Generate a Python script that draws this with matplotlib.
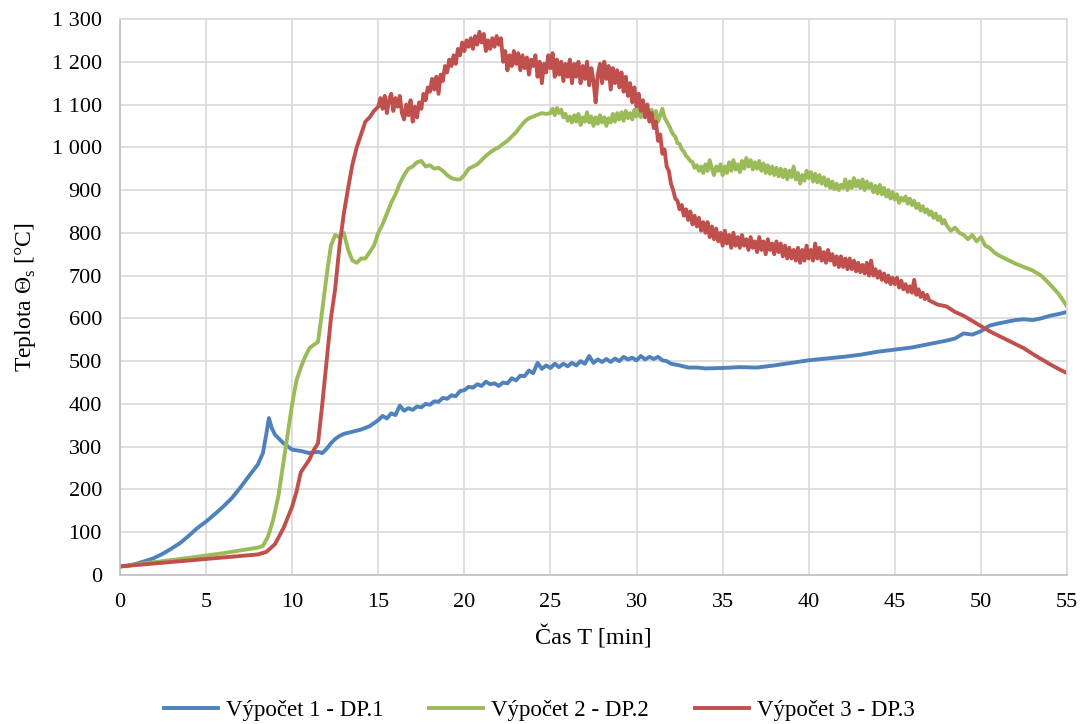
import matplotlib
matplotlib.use("Agg")
import numpy as np
import matplotlib.pyplot as plt
from matplotlib.ticker import FuncFormatter, MultipleLocator

plt.rcParams['font.family'] = ['Liberation Serif', 'DejaVu Serif']

# ---- data ----
# Výpočet 1 - DP.1
t_blue = [0, 0.5, 1, 1.5, 2, 2.5, 3, 3.5, 4, 4.5, 5, 5.5, 6, 6.5, 7, 7.5, 8, 8.3, 8.5, 8.65, 8.8, 9, 9.5, 10,
          10.5, 11, 11.5, 11.75, 12, 12.25, 12.5, 12.75, 13, 13.5, 14, 14.5,
          15, 15.25, 15.5, 15.75, 16, 16.25, 16.5, 16.75, 17, 17.25, 17.5, 17.75, 18, 18.25, 18.5, 18.75,
          19, 19.25, 19.5, 19.75, 20, 20.25, 20.5, 20.75, 21, 21.25, 21.5, 21.75, 22, 22.25, 22.5, 22.75,
          23, 23.25, 23.5, 23.75, 24, 24.25, 24.5, 24.75, 25, 25.25, 25.5, 25.75, 26, 26.25, 26.5, 26.75,
          27, 27.25, 27.5, 27.75, 28, 28.25, 28.5, 28.75, 29, 29.25, 29.5, 29.75, 30, 30.25, 30.5, 30.75,
          31, 31.25, 31.5, 31.75, 32, 32.5, 33, 33.5, 34,
          35, 36, 37, 38, 39, 40, 41, 42, 43, 44, 45, 46, 47, 48, 48.5, 49, 49.5, 50, 50.5, 51, 51.5, 52,
          52.5, 53, 53.5, 54, 54.5, 55]
v_blue = [20, 22, 27, 33, 40, 50, 62, 75, 92, 110, 125, 142, 160, 180, 205, 232, 258, 285, 330, 367, 345, 328, 308, 293,
          290, 285, 288, 285, 295, 308, 318, 325, 330, 335, 340, 348,
          362, 372, 366, 378, 374, 396, 384, 390, 386, 394, 392, 400, 398, 406, 405, 414,
          412, 420, 418, 430, 432, 440, 438, 446, 442, 452, 446, 448, 442, 450, 448, 460,
          455, 466, 465, 478, 472, 496, 482, 490, 484, 494, 486, 494, 488, 496, 490, 500,
          494, 512, 496, 504, 498, 505, 498, 506, 500, 510, 504, 508, 502, 512, 504, 510,
          505, 510, 502, 500, 494, 490, 485, 485, 483,
          484, 486, 485, 490, 496, 502, 506, 510, 515, 522, 527, 532, 540, 548, 553, 565, 562, 570, 583, 588, 592, 596,
          598, 596, 600, 606, 610, 615]

# Výpočet 2 - DP.2 : start (sparse), noisy middle (every 0.125 min from 25 to 48), end (sparse)
t_green_start = [0, 2, 4, 6, 8, 8.3, 8.6, 8.9, 9.2, 9.5, 9.75, 10, 10.25, 10.5, 10.75, 11, 11.25, 11.5, 11.75, 12,
                 12.25, 12.5, 12.75, 13, 13.25, 13.5, 13.75, 14, 14.25, 14.5, 14.75, 15, 15.25, 15.5, 15.75, 16,
                 16.25, 16.5, 16.75, 17, 17.25, 17.5, 17.75, 18, 18.25, 18.5, 18.75, 19, 19.25, 19.5, 19.75, 20,
                 20.25, 20.5, 20.75, 21, 21.25, 21.5, 21.75, 22, 22.25, 22.5, 22.75, 23, 23.25, 23.5, 23.75, 24,
                 24.25, 24.5, 24.75]
v_green_start = [20, 30, 40, 51, 64, 68, 90, 130, 185, 265, 330, 400, 455, 485, 510, 530, 538, 545, 620, 700,
                 770, 795, 790, 800, 760, 735, 730, 740, 740, 755, 770, 800, 820, 845, 870, 890,
                 915, 935, 950, 955, 965, 968, 955, 958, 950, 952, 945, 935, 928, 925, 925, 935,
                 950, 955, 960, 970, 980, 988, 995, 1000, 1008, 1015, 1025, 1035, 1048, 1060, 1068, 1072,
                 1076, 1080, 1078]
v_green_mid = [
    1080, 1090, 1075, 1092, 1080, 1088, 1070, 1078,   # 25
    1062, 1072, 1058, 1075, 1060, 1078, 1052, 1070,   # 26
    1060, 1082, 1058, 1072, 1050, 1070, 1055, 1075,   # 27
    1058, 1070, 1050, 1068, 1058, 1078, 1060, 1080,   # 28
    1065, 1082, 1062, 1085, 1068, 1080, 1065, 1088,   # 29
    1072, 1090, 1070, 1085, 1075, 1092, 1068, 1088,   # 30
    1065, 1085, 1060, 1075, 1090, 1070, 1060, 1052,   # 31
    1040, 1030, 1025, 1010, 1008, 995, 990, 980,      # 32
    975, 968, 965, 952, 958, 945, 955, 940,           # 33
    960, 945, 970, 950, 935, 955, 945, 960,           # 34
    935, 955, 940, 965, 945, 970, 948, 960,           # 35
    942, 968, 950, 975, 955, 970, 948, 965,           # 36
    950, 968, 945, 962, 940, 958, 938, 955,           # 37
    935, 952, 932, 950, 930, 948, 925, 945,           # 38
    930, 955, 925, 940, 915, 935, 922, 945,           # 39
    928, 942, 920, 938, 918, 935, 915, 930,           # 40
    910, 925, 905, 920, 902, 915, 900, 912,           # 41
    905, 925, 900, 920, 905, 928, 908, 922,           # 42
    905, 925, 900, 920, 905, 915, 895, 910,           # 43
    892, 912, 890, 905, 885, 900, 880, 895,           # 44
    878, 890, 870, 882, 875, 885, 868, 880,           # 45
    865, 875, 858, 868, 852, 862, 848, 855,           # 46
    842, 850, 835, 845, 830, 838, 822, 830,           # 47
    818]                                              # 48
t_green_end = [48.25, 48.5, 48.75, 49, 49.25, 49.5, 49.75, 50, 50.25, 50.5, 50.75, 51, 51.5, 52, 52.5, 53,
               53.5, 54, 54.5, 55]
v_green_end = [805, 812, 800, 795, 785, 795, 780, 790, 770, 765, 755, 748, 738, 728, 720, 712,
               700, 680, 658, 628]

# Výpočet 3 - DP.3 : start (sparse), noisy middle (every 0.125 min from 15 to 47), end (sparse)
t_red_start = [0, 2, 4, 6, 8, 8.5, 9, 9.5, 10, 10.25, 10.5, 10.75, 11, 11.25, 11.5, 11.75, 12, 12.25, 12.5,
               12.75, 13, 13.25, 13.5, 13.75, 14, 14.25, 14.5, 14.75]
v_red_start = [20, 27, 34, 41, 48, 54, 72, 110, 160, 195, 240, 255, 270, 292, 308, 400, 500, 600, 670,
               770, 845, 905, 960, 1000, 1030, 1060, 1070, 1085]
v_red_mid = [
    1095, 1115, 1090, 1120, 1080, 1110, 1125, 1085,   # 15
    1115, 1095, 1120, 1080, 1065, 1100, 1075, 1110,   # 16
    1060, 1095, 1070, 1105, 1090, 1125, 1110, 1140,   # 17
    1130, 1160, 1135, 1165, 1125, 1170, 1155, 1190,   # 18
    1175, 1205, 1190, 1215, 1195, 1230, 1215, 1245,   # 19
    1225, 1250, 1235, 1255, 1230, 1260, 1240, 1270,   # 20
    1245, 1265, 1225, 1250, 1230, 1255, 1235, 1260,   # 21
    1240, 1255, 1200, 1225, 1180, 1215, 1190, 1225,   # 22
    1195, 1220, 1180, 1215, 1185, 1210, 1170, 1205,   # 23
    1190, 1215, 1165, 1200, 1150, 1195, 1175, 1215,   # 24
    1185, 1220, 1165, 1205, 1170, 1200, 1155, 1195,   # 25
    1165, 1205, 1150, 1195, 1165, 1200, 1150, 1190,   # 26
    1160, 1200, 1145, 1185, 1155, 1105, 1170, 1195,   # 27
    1150, 1200, 1160, 1190, 1135, 1185, 1150, 1180,   # 28
    1140, 1175, 1130, 1165, 1120, 1150, 1105, 1140,   # 29
    1095, 1125, 1085, 1110, 1070, 1100, 1060, 1080,   # 30
    1045, 1060, 1015, 1030, 985, 995, 955, 945,       # 31
    915, 900, 880, 875, 855, 865, 840, 855,           # 32
    830, 850, 820, 840, 815, 835, 805, 825,           # 33
    800, 825, 790, 815, 785, 810, 780, 800,           # 34
    770, 805, 775, 795, 765, 800, 770, 790,           # 35
    765, 795, 770, 785, 760, 790, 765, 780,           # 36
    755, 790, 760, 780, 750, 785, 760, 775,           # 37
    750, 780, 755, 775, 745, 770, 740, 765,           # 38
    740, 760, 735, 765, 730, 760, 735, 770,           # 39
    740, 760, 735, 775, 740, 765, 735, 755,           # 40
    730, 760, 735, 750, 725, 745, 720, 745,           # 41
    720, 740, 715, 740, 715, 735, 710, 730,           # 42
    708, 725, 705, 730, 700, 735, 700, 715,           # 43
    695, 710, 690, 705, 685, 700, 680, 695,           # 44
    680, 695, 672, 688, 668, 680, 662, 675,           # 45
    660, 690, 655, 668, 650, 660, 645, 655,           # 46
    642]                                              # 47
t_red_end = [47.5, 48, 48.5, 49, 49.5, 50, 50.5, 51, 51.5, 52, 52.5, 53, 53.5, 54, 54.5, 55]
v_red_end = [632, 628, 615, 606, 594, 582, 570, 560, 550, 540, 530, 517, 505, 493, 482, 472]

labels = ['Výpočet 1 - DP.1', 'Výpočet 2 - DP.2', 'Výpočet 3 - DP.3']
colors = ['#4F81BD', '#9BBB59', '#C0504D']

# assemble series
t_green = list(t_green_start) + list(25 + 0.125 * np.arange(len(v_green_mid))) + list(t_green_end)
v_green = list(v_green_start) + list(v_green_mid) + list(v_green_end)
t_red = list(t_red_start) + list(15 + 0.125 * np.arange(len(v_red_mid))) + list(t_red_end)
v_red = list(v_red_start) + list(v_red_mid) + list(v_red_end)

fig = plt.figure(figsize=(10.85, 7.24), dpi=100)
ax = fig.add_axes([0.1106, 0.2058, 0.8728, 0.768])

lw = 2.8
ax.plot(t_blue, v_blue, color=colors[0], lw=lw, label=labels[0], solid_joinstyle='round')
ax.plot(t_green, v_green, color=colors[1], lw=lw, label=labels[1], solid_joinstyle='round')
ax.plot(t_red, v_red, color=colors[2], lw=lw, label=labels[2], solid_joinstyle='round')

ax.set_xlim(0, 55)
ax.set_ylim(0, 1300)
ax.xaxis.set_major_locator(MultipleLocator(5))
ax.yaxis.set_major_locator(MultipleLocator(100))
ax.yaxis.set_major_formatter(FuncFormatter(lambda v, p: f"{int(v):,}".replace(",", " ")))
ax.grid(True, color='#D9D9D9', lw=1.2)
ax.set_axisbelow(True)
for s in ax.spines.values():
    s.set_color('#D9D9D9')
    s.set_linewidth(1.2)
ax.spines['left'].set_color('#BFBFBF')
ax.spines['bottom'].set_color('#BFBFBF')
ax.tick_params(length=0, labelsize=16, colors='black', pad=13)

ax.set_xlabel('Čas T [min]', fontsize=17.5, labelpad=10)
ax.set_ylabel('Teplota Θ$_\\mathregular{s}$ [°C]', fontsize=17, labelpad=10)

fig.legend(loc='center', bbox_to_anchor=(0.497, 1 - 710 / 724), ncol=3, frameon=False,
           fontsize=16.5, handlelength=2.35, columnspacing=2.0, handletextpad=0.35)

fig.savefig('out.png', dpi=100)
